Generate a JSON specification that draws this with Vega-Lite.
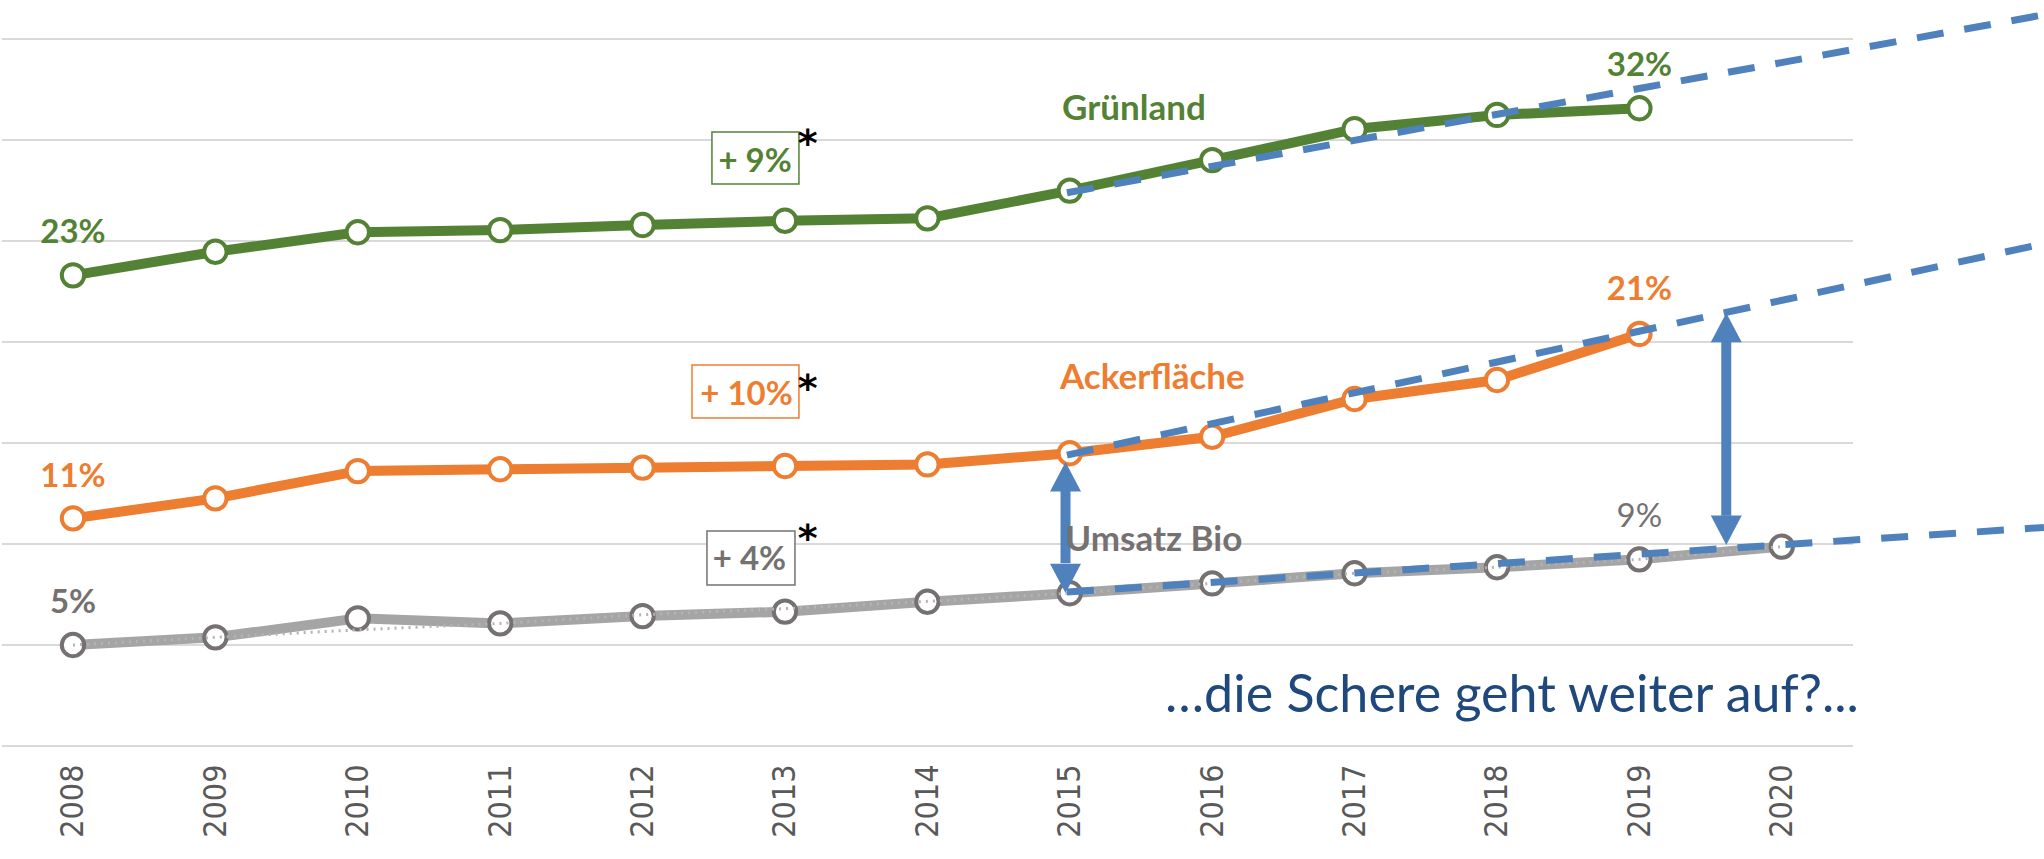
{
  "$schema": "https://vega.github.io/schema/vega-lite/v6.json",
  "width": 2044,
  "height": 746,
  "autosize": "none",
  "padding": {"left": 0, "top": 0, "right": 0, "bottom": 113},
  "background": "white",
  "config": {"view": {"stroke": null}},
  "datasets": {
    "grid": [
      {"value": 0, "year": 2007.5, "year2": 2020.5},
      {"value": 5, "year": 2007.5, "year2": 2020.5},
      {"value": 10, "year": 2007.5, "year2": 2020.5},
      {"value": 15, "year": 2007.5, "year2": 2020.5},
      {"value": 20, "year": 2007.5, "year2": 2020.5},
      {"value": 25, "year": 2007.5, "year2": 2020.5},
      {"value": 30, "year": 2007.5, "year2": 2020.5},
      {"value": 35, "year": 2007.5, "year2": 2020.5}
    ],
    "series": [
      {"series": "Grünland", "year": 2008, "value": 23.3},
      {"series": "Grünland", "year": 2009, "value": 24.47},
      {"series": "Grünland", "year": 2010, "value": 25.43},
      {"series": "Grünland", "year": 2011, "value": 25.54},
      {"series": "Grünland", "year": 2012, "value": 25.79},
      {"series": "Grünland", "year": 2013, "value": 26.0},
      {"series": "Grünland", "year": 2014, "value": 26.12},
      {"series": "Grünland", "year": 2015, "value": 27.49},
      {"series": "Grünland", "year": 2016, "value": 29.0},
      {"series": "Grünland", "year": 2017, "value": 30.54},
      {"series": "Grünland", "year": 2018, "value": 31.24},
      {"series": "Grünland", "year": 2019, "value": 31.57},
      {"series": "Ackerfläche", "year": 2008, "value": 11.27},
      {"series": "Ackerfläche", "year": 2009, "value": 12.26},
      {"series": "Ackerfläche", "year": 2010, "value": 13.61},
      {"series": "Ackerfläche", "year": 2011, "value": 13.7},
      {"series": "Ackerfläche", "year": 2012, "value": 13.78},
      {"series": "Ackerfläche", "year": 2013, "value": 13.86},
      {"series": "Ackerfläche", "year": 2014, "value": 13.94},
      {"series": "Ackerfläche", "year": 2015, "value": 14.49},
      {"series": "Ackerfläche", "year": 2016, "value": 15.31},
      {"series": "Ackerfläche", "year": 2017, "value": 17.18},
      {"series": "Ackerfläche", "year": 2018, "value": 18.12},
      {"series": "Ackerfläche", "year": 2019, "value": 20.4},
      {"series": "Umsatz Bio", "year": 2008, "value": 5.0},
      {"series": "Umsatz Bio", "year": 2009, "value": 5.38},
      {"series": "Umsatz Bio", "year": 2010, "value": 6.32},
      {"series": "Umsatz Bio", "year": 2011, "value": 6.07},
      {"series": "Umsatz Bio", "year": 2012, "value": 6.43},
      {"series": "Umsatz Bio", "year": 2013, "value": 6.65},
      {"series": "Umsatz Bio", "year": 2014, "value": 7.14},
      {"series": "Umsatz Bio", "year": 2015, "value": 7.56},
      {"series": "Umsatz Bio", "year": 2016, "value": 8.05},
      {"series": "Umsatz Bio", "year": 2017, "value": 8.55},
      {"series": "Umsatz Bio", "year": 2018, "value": 8.85},
      {"series": "Umsatz Bio", "year": 2019, "value": 9.24},
      {"series": "Umsatz Bio", "year": 2020, "value": 9.87}
    ],
    "dotted": [
      {"year": 2008, "value": 5.0},
      {"year": 2009, "value": 5.38},
      {"year": 2010, "value": 5.75},
      {"year": 2011, "value": 6.07},
      {"year": 2012, "value": 6.5},
      {"year": 2013, "value": 6.8},
      {"year": 2014, "value": 7.16},
      {"year": 2015, "value": 7.56},
      {"year": 2016, "value": 8.05},
      {"year": 2017, "value": 8.55},
      {"year": 2018, "value": 8.85},
      {"year": 2019, "value": 9.24},
      {"year": 2020, "value": 9.87}
    ],
    "trend": [
      {"trend": "Grünland", "year": 2014.98, "value": 27.39},
      {"trend": "Grünland", "year": 2021.8413, "value": 36.2},
      {"trend": "Ackerfläche", "year": 2014.98, "value": 14.4},
      {"trend": "Ackerfläche", "year": 2021.8413, "value": 24.87},
      {"trend": "Umsatz Bio", "year": 2014.98, "value": 7.62},
      {"trend": "Umsatz Bio", "year": 2021.8413, "value": 10.82}
    ],
    "shafts": [
      {"year": 2014.97, "value": 12.75, "value2": 9.05},
      {"year": 2019.61, "value": 20.05, "value2": 11.4}
    ],
    "heads": [
      {"year": 2014.97, "value": 14.06, "dir": "up"},
      {"year": 2014.97, "value": 7.57, "dir": "down"},
      {"year": 2019.61, "value": 21.44, "dir": "up"},
      {"year": 2019.61, "value": 9.95, "dir": "down"}
    ],
    "boxes": [
      {"series": "Grünland", "year": 2012.487, "year2": 2013.098, "value": 30.4, "value2": 27.82, "label": "+ 9%", "ly": 28.42, "lx": 2012.79},
      {"series": "Ackerfläche", "year": 2012.347, "year2": 2013.098, "value": 18.86, "value2": 16.24, "label": "+ 10%", "ly": 16.88, "lx": 2012.73},
      {"series": "Umsatz Bio", "year": 2012.452, "year2": 2013.07, "value": 10.64, "value2": 7.97, "label": "+ 4%", "ly": 8.71, "lx": 2012.75}
    ],
    "stars": [
      {"year": 2013.16, "value": 29.2, "label": "*"},
      {"year": 2013.16, "value": 17.07, "label": "*"},
      {"year": 2013.16, "value": 9.65, "label": "*"}
    ],
    "valueLabels": [
      {"series": "Grünland", "year": 2008, "value": 24.9, "label": "23%"},
      {"series": "Grünland", "year": 2019, "value": 33.17, "label": "32%"},
      {"series": "Ackerfläche", "year": 2008, "value": 12.82, "label": "11%"},
      {"series": "Ackerfläche", "year": 2019, "value": 22.08, "label": "21%"},
      {"series": "Umsatz Bio", "year": 2008, "value": 6.58, "label": "5%"}
    ],
    "valueLabelsRegular": [
      {"series": "Umsatz Bio", "year": 2019, "value": 10.84, "label": "9%"}
    ],
    "names": [
      {"series": "Grünland", "year": 2015.45, "value": 30.99, "label": "Grünland"},
      {"series": "Ackerfläche", "year": 2015.58, "value": 17.67, "label": "Ackerfläche"},
      {"series": "Umsatz Bio", "year": 2015.59, "value": 9.65, "label": "Umsatz Bio"}
    ],
    "note": [
      {"year": 2018.105, "value": 1.68, "label": "…die Schere geht weiter auf?..."}
    ]
  },
  "encoding": {
    "x": {
      "field": "year",
      "type": "quantitative",
      "scale": {"domain": [2007.4874, 2021.8413], "nice": false, "zero": false},
      "axis": {
        "values": [2008, 2009, 2010, 2011, 2012, 2013, 2014, 2015, 2016, 2017, 2018, 2019, 2020],
        "format": "d",
        "labelAngle": -90,
        "labelFont": "DejaVu Sans Condensed",
        "labelFontSize": 32,
        "labelColor": "#595959",
        "labelPadding": 18,
        "ticks": false,
        "tickSize": 0,
        "domain": false,
        "grid": false,
        "title": null,
        "labelOverlap": false,
        "labelFlush": false,
        "labelBound": false
      }
    },
    "y": {
      "field": "value",
      "type": "quantitative",
      "scale": {"domain": [0, 36.93], "nice": false, "zero": false},
      "axis": null
    }
  },
  "layer": [
    {
      "data": {"name": "grid"},
      "mark": {"type": "rule", "color": "#D9D9D9", "strokeWidth": 2},
      "encoding": {
        "x2": {"field": "year2"}
      }
    },
    {
      "data": {"name": "boxes"},
      "mark": {"type": "rect", "fill": "white", "strokeWidth": 1.5},
      "encoding": {
        "x2": {"field": "year2"},
        "y2": {"field": "value2"},
        "stroke": {"field": "series", "type": "nominal", "scale": {"domain": ["Grünland", "Ackerfläche", "Umsatz Bio"], "range": ["#548235", "#ED7D31", "#767171"]}, "legend": null}
      }
    },
    {
      "data": {"name": "series"},
      "mark": {"type": "line", "strokeWidth": 10, "strokeJoin": "round", "strokeCap": "round"},
      "encoding": {
        "color": {"field": "series", "type": "nominal", "scale": {"domain": ["Grünland", "Ackerfläche", "Umsatz Bio"], "range": ["#548235", "#ED7D31", "#A5A5A5"]}, "legend": null}
      }
    },
    {
      "data": {"name": "series"},
      "mark": {"type": "point", "shape": "circle", "filled": true, "fill": "white", "opacity": 1, "size": 500, "strokeWidth": 4},
      "encoding": {
        "stroke": {"field": "series", "type": "nominal", "legend": null}
      }
    },
    {
      "data": {"name": "dotted"},
      "mark": {"type": "line", "color": "#B4B4B4", "strokeWidth": 3, "strokeDash": [2, 5]},
      "encoding": {}
    },
    {
      "data": {"name": "trend"},
      "mark": {"type": "line", "color": "#4F81BD", "strokeWidth": 7, "strokeDash": [27, 21], "clip": false},
      "encoding": {"detail": {"field": "trend", "type": "nominal"}}
    },
    {
      "data": {"name": "shafts"},
      "mark": {"type": "rule", "color": "#4F81BD", "strokeWidth": 10},
      "encoding": {"y2": {"field": "value2"}}
    },
    {
      "data": {"name": "heads"},
      "transform": [{"filter": "datum.dir === 'up'"}],
      "mark": {"type": "point", "shape": "M-1,1.9L0,0L1,1.9Z", "filled": true, "color": "#4F81BD", "opacity": 1, "size": 961, "strokeWidth": 0},
      "encoding": {}
    },
    {
      "data": {"name": "heads"},
      "transform": [{"filter": "datum.dir === 'down'"}],
      "mark": {"type": "point", "shape": "M-1,-1.9L0,0L1,-1.9Z", "filled": true, "color": "#4F81BD", "opacity": 1, "size": 961, "strokeWidth": 0},
      "encoding": {}
    },
    {
      "data": {"name": "boxes"},
      "mark": {"type": "text", "font": "Lato", "fontWeight": "bold", "fontSize": 33, "align": "center", "baseline": "alphabetic"},
      "encoding": {
        "x": {"field": "lx", "type": "quantitative"},
        "y": {"field": "ly", "type": "quantitative"},
        "text": {"field": "label"},
        "fill": {"field": "series", "type": "nominal", "scale": {"domain": ["Grünland", "Ackerfläche", "Umsatz Bio"], "range": ["#548235", "#ED7D31", "#767171"]}, "legend": null}
      }
    },
    {
      "data": {"name": "stars"},
      "mark": {"type": "text", "font": "DejaVu Sans", "fontWeight": "bold", "fontSize": 38, "align": "center", "baseline": "alphabetic", "color": "#000000"},
      "encoding": {"text": {"field": "label"}}
    },
    {
      "data": {"name": "valueLabels"},
      "mark": {"type": "text", "font": "Lato", "fontWeight": "bold", "fontSize": 33, "align": "center", "baseline": "alphabetic"},
      "encoding": {
        "text": {"field": "label"},
        "fill": {"field": "series", "type": "nominal", "legend": null}
      }
    },
    {
      "data": {"name": "valueLabelsRegular"},
      "mark": {"type": "text", "font": "Lato", "fontWeight": "normal", "fontSize": 33, "align": "center", "baseline": "alphabetic"},
      "encoding": {
        "text": {"field": "label"},
        "fill": {"field": "series", "type": "nominal", "legend": null}
      }
    },
    {
      "data": {"name": "names"},
      "mark": {"type": "text", "font": "Lato", "fontWeight": "bold", "fontSize": 35, "align": "center", "baseline": "alphabetic"},
      "encoding": {
        "text": {"field": "label"},
        "fill": {"field": "series", "type": "nominal", "legend": null}
      }
    },
    {
      "data": {"name": "note"},
      "mark": {"type": "text", "font": "Lato", "fontWeight": "normal", "fontSize": 52, "align": "center", "baseline": "alphabetic", "color": "#1F497D"},
      "encoding": {"text": {"field": "label"}}
    }
  ]
}
